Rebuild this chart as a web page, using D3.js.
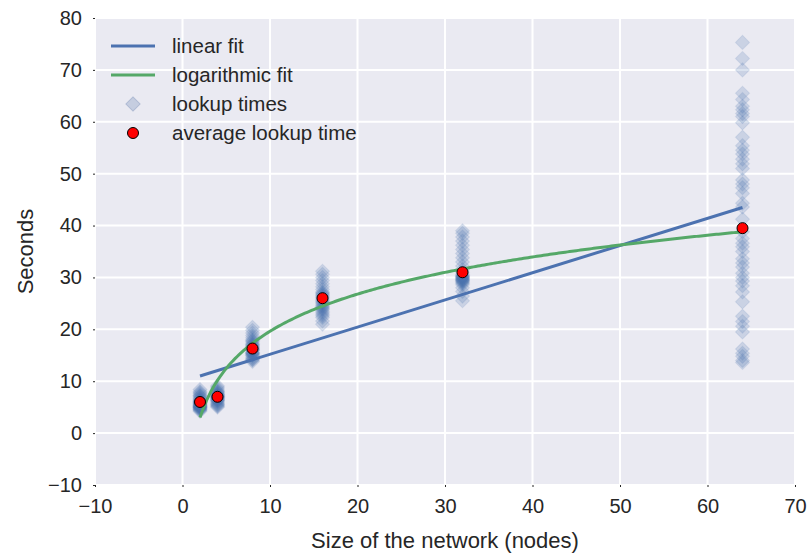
<!DOCTYPE html>
<html>
<head>
<meta charset="utf-8">
<script src="https://cdn.jsdelivr.net/npm/d3@7"></script>
<style>
  body { margin: 0; background: #fff; }
  text { font-family: "Liberation Sans", Arial, sans-serif; fill: #262626; }
</style>
</head>
<body>
<div id="chart"></div>
<script>
// network sizes tested and the measured lookup times for each
const sizes = [2, 4, 8, 16, 32, 64];
const lookupTimes = [
    [4.2, 4.4, 4.5, 4.7, 4.8, 4.9, 5.0, 5.0, 5.1, 5.2, 5.3, 5.4, 5.5, 5.6, 5.7, 5.8, 5.9, 6.0, 6.1, 6.2, 6.3, 6.5, 6.6, 6.8, 7.0, 7.2, 7.3, 7.6, 7.8, 8.0, 8.4, 4.6, 5.1, 5.3],
    [5.0, 5.2, 5.3, 5.6, 5.8, 6.0, 6.2, 6.3, 6.5, 6.6, 6.8, 6.9, 7.0, 7.1, 7.2, 7.3, 7.4, 7.6, 7.8, 7.9, 8.0, 8.2, 8.5, 8.8, 9.1, 6.4, 7.0, 7.5, 5.5, 6.7],
    [13.8, 14.1, 14.2, 14.6, 14.9, 15.0, 15.2, 15.3, 15.5, 15.6, 15.9, 16.0, 16.1, 16.3, 16.5, 16.6, 16.8, 17.0, 17.1, 17.3, 17.6, 18.0, 18.4, 18.8, 19.3, 19.8, 20.4, 15.4, 16.2, 14.4, 17.8],
    [21.0, 21.6, 22.3, 22.9, 23.2, 23.5, 23.8, 24.0, 24.4, 24.6, 24.9, 25.1, 25.3, 25.7, 26.0, 26.2, 26.4, 26.8, 27.0, 27.2, 27.7, 28.2, 28.8, 29.4, 30.0, 30.6, 31.2, 22.6, 24.2, 25.5, 26.6],
    [25.5, 26.4, 27.3, 28.0, 28.6, 28.9, 29.0, 29.2, 29.3, 29.5, 29.6, 29.7, 29.9, 30.0, 30.1, 30.3, 30.4, 30.6, 31.0, 31.5, 32.2, 33.0, 33.8, 34.6, 35.4, 36.2, 37.0, 37.8, 38.5, 39.0, 29.4, 29.8, 30.2],
    [75.3, 72.2, 70.0, 65.5, 64.3, 63.0, 62.3, 61.6, 61.0, 59.8, 57.0, 55.4, 54.5, 53.8, 52.8, 51.9, 51.0, 48.8, 48.0, 47.3, 46.2, 44.3, 43.6, 41.2, 38.8, 37.5, 36.6, 35.9, 35.0, 33.6, 32.8, 32.0, 30.8, 30.0, 29.3, 28.4, 27.2, 25.3, 22.5, 21.5, 20.6, 19.5, 16.2, 15.4, 14.8, 14.0, 13.6]
];
const averages = [6.0, 7.0, 16.3, 26.0, 31.0, 39.5];

// fitted models: y = slope * x + intercept, y = a + b * log2(x)
const linearFit = [0.524, 9.95];
const logFit = [-4.16, 7.16];

const xTicks = [-10, 0, 10, 20, 30, 40, 50, 60, 70];
const yTicks = [-10, 0, 10, 20, 30, 40, 50, 60, 70, 80];

const blue = "#4C72B0";
const green = "#55A868";

const width = 808, height = 556;
const margin = { top: 18, right: 13, bottom: 71, left: 95 };
const w = width - margin.left - margin.right;
const h = height - margin.top - margin.bottom;

const svg = d3.select("#chart")
    .append("svg")
    .attr("width", width)
    .attr("height", height);

const g = svg.append("g")
    .attr("transform", `translate(${margin.left},${margin.top})`);

const x = d3.scaleLinear().domain([-10, 70]).range([0, w]);
const y = d3.scaleLinear().domain([-10, 80]).range([h, 0]);

g.append("rect")
    .attr("width", w)
    .attr("height", h)
    .attr("fill", "#EAEAF2");

// white grid
g.selectAll(".vgrid")
    .data(xTicks)
    .enter()
    .append("line")
    .attr("x1", d => x(d)).attr("x2", d => x(d))
    .attr("y1", 0).attr("y2", h)
    .attr("stroke", "#fff")
    .attr("stroke-width", 2);

g.selectAll(".hgrid")
    .data(yTicks)
    .enter()
    .append("line")
    .attr("x1", 0).attr("x2", w)
    .attr("y1", d => y(d)).attr("y2", d => y(d))
    .attr("stroke", "#fff")
    .attr("stroke-width", 2);

const fmt = d => d < 0 ? "\u2212" + Math.abs(d) : String(d);

const xAxis = g.append("g")
    .attr("transform", `translate(0,${h})`)
    .call(d3.axisBottom(x).tickValues(xTicks).tickFormat(fmt).tickSize(2).tickPadding(12));

const yAxis = g.append("g")
    .call(d3.axisLeft(y).tickValues(yTicks).tickFormat(fmt).tickSize(2).tickPadding(11));

[xAxis, yAxis].forEach(a => {
    a.select(".domain").remove();
    a.selectAll(".tick line").attr("stroke", "#262626");
    a.selectAll(".tick text")
        .style("font-size", "20px")
        .attr("fill", "#262626");
});

// individual lookup times
const points = [];
sizes.forEach((s, i) => lookupTimes[i].forEach(v => points.push({ size: s, time: v })));

const diamond = d3.symbol().type(d3.symbolSquare).size(100);

g.selectAll(".lookup")
    .data(points)
    .enter()
    .append("path")
    .attr("d", diamond)
    .attr("transform", d => `translate(${x(d.size)},${y(d.time)}) rotate(45)`)
    .attr("fill", blue)
    .attr("fill-opacity", 0.2)
    .attr("stroke", blue)
    .attr("stroke-opacity", 0.12)
    .attr("stroke-width", 1);

// fit lines
const xMin = d3.min(sizes), xMax = d3.max(sizes);

g.append("path")
    .datum([xMin, xMax])
    .attr("fill", "none")
    .attr("stroke", blue)
    .attr("stroke-width", 3)
    .attr("d", d3.line().x(d => x(d)).y(d => y(linearFit[0] * d + linearFit[1])));

const logXs = d3.range(xMin, xMax + 0.001, 0.25);
g.append("path")
    .datum(logXs)
    .attr("fill", "none")
    .attr("stroke", green)
    .attr("stroke-width", 3)
    .attr("d", d3.line().x(d => x(d)).y(d => y(logFit[0] + logFit[1] * Math.log2(d))));

// averages
g.selectAll(".avg")
    .data(sizes)
    .enter()
    .append("circle")
    .attr("cx", d => x(d))
    .attr("cy", (d, i) => y(averages[i]))
    .attr("r", 5.5)
    .attr("fill", "red")
    .attr("stroke", "#000")
    .attr("stroke-width", 1);

// axis titles
svg.append("text")
    .attr("x", margin.left + w / 2)
    .attr("y", 548)
    .attr("text-anchor", "middle")
    .style("font-size", "22px")
    .text("Size of the network (nodes)");

svg.append("text")
    .attr("transform", `translate(33,${margin.top + h / 2}) rotate(-90)`)
    .attr("text-anchor", "middle")
    .style("font-size", "22px")
    .text("Seconds");

// legend
const legend = g.append("g").attr("transform", "translate(16,28)");
const rowH = 29;

legend.append("line")
    .attr("x1", 0).attr("x2", 44).attr("y1", 0).attr("y2", 0)
    .attr("stroke", blue).attr("stroke-width", 3);
legend.append("line")
    .attr("x1", 0).attr("x2", 44).attr("y1", rowH).attr("y2", rowH)
    .attr("stroke", green).attr("stroke-width", 3);
legend.append("path")
    .attr("d", diamond)
    .attr("transform", `translate(22,${rowH * 2}) rotate(45)`)
    .attr("fill", "#C5CDE0")
    .attr("stroke", "#B0BBD4")
    .attr("stroke-width", 1);
legend.append("circle")
    .attr("cx", 22).attr("cy", rowH * 3)
    .attr("r", 5.5)
    .attr("fill", "red")
    .attr("stroke", "#000");

["linear fit", "logarithmic fit", "lookup times", "average lookup time"].forEach((t, i) => {
    legend.append("text")
        .attr("x", 61)
        .attr("y", i * rowH)
        .attr("dy", "0.35em")
        .style("font-size", "20.5px")
        .text(t);
});
</script>
</body>
</html>
